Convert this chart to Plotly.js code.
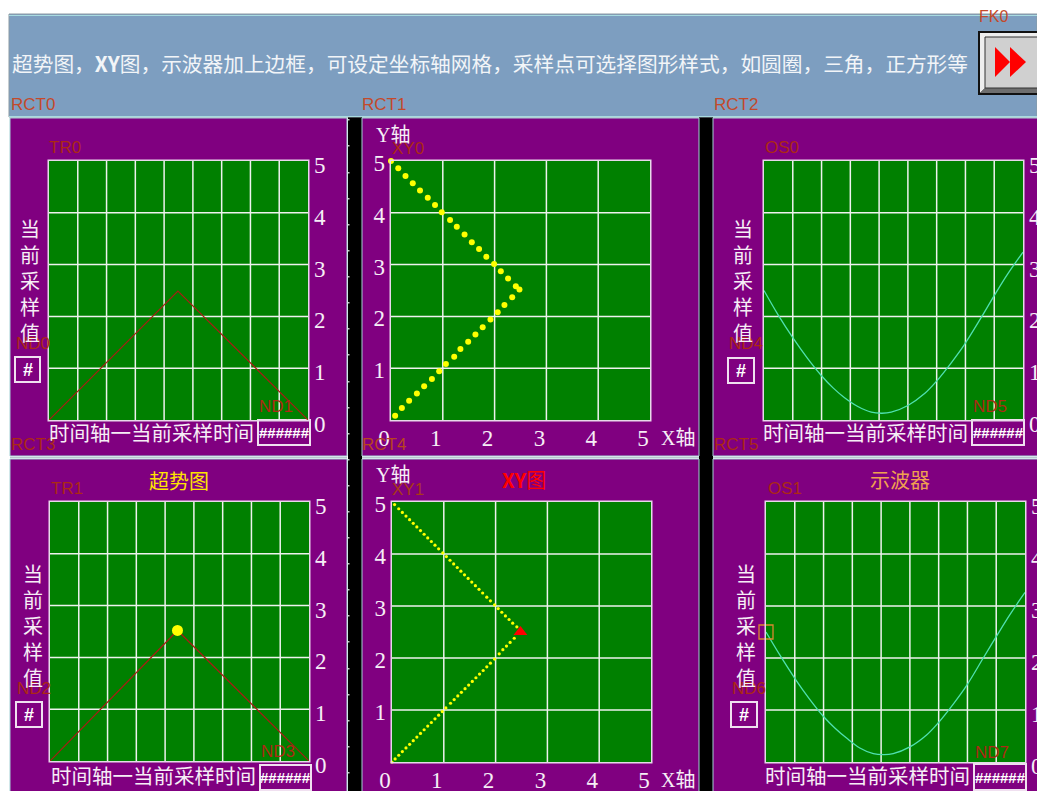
<!DOCTYPE html>
<html>
<head>
<meta charset="utf-8">
<script src="https://cdn.plot.ly/plotly-3.0.1.min.js"></script>
<style>html,body{margin:0;padding:0;background:#fff;overflow:hidden}#chart{width:1037px;height:791px}
#chart .gridlayer path,#chart .crisp{shape-rendering:auto !important}</style>
</head>
<body>
<div id="chart"></div>
<script>
// ---- data ----
var trendTime0 = [0, 4.48, 9];
var trendValue0 = [0, 2.49, 0];
var trendTime1 = [0, 4.43, 9];
var trendValue1 = [0, 2.52, 0];
var trendLatestTime = [4.43];
var trendLatestValue = [2.52];

var xy0X = [0,0.14,0.28,0.42,0.56,0.71,0.85,0.98,1.14,1.27,1.42,1.56,1.70,1.84,1.99,2.12,2.26,2.41,2.48,2.34,2.19,2.06,1.92,1.77,1.63,1.49,1.34,1.22,1.06,0.93,0.79,0.64,0.50,0.35,0.21,0.08];
var xy0Y = [5,4.86,4.71,4.57,4.43,4.29,4.15,4.01,3.86,3.73,3.58,3.43,3.30,3.15,3.01,2.87,2.73,2.58,2.52,2.37,2.22,2.08,1.94,1.79,1.65,1.51,1.37,1.22,1.08,0.94,0.79,0.65,0.51,0.37,0.23,0.08];

var xy1X = [0.05,0.13,0.20,0.27,0.34,0.41,0.48,0.55,0.62,0.69,0.76,0.83,0.90,0.98,1.05,1.12,1.19,1.26,1.33,1.40,1.47,1.54,1.61,1.68,1.75,1.83,1.90,1.98,2.05,2.12,2.19,2.26,2.33,2.41,
            2.36,2.28,2.21,2.14,2.07,1.98,1.90,1.83,1.76,1.69,1.62,1.55,1.48,1.41,1.34,1.27,1.20,1.13,1.04,0.97,0.90,0.83,0.76,0.69,0.62,0.55,0.48,0.41,0.34,0.27,0.20,0.13,0.06,0];
var xy1Y = [4.95,4.87,4.80,4.73,4.66,4.59,4.52,4.45,4.38,4.31,4.24,4.17,4.10,4.02,3.95,3.88,3.81,3.74,3.67,3.60,3.53,3.46,3.39,3.32,3.25,3.17,3.10,3.02,2.95,2.88,2.81,2.74,2.67,2.60,
            2.38,2.30,2.23,2.16,2.08,1.98,1.90,1.83,1.76,1.69,1.62,1.55,1.48,1.41,1.34,1.27,1.20,1.13,1.04,0.97,0.90,0.83,0.76,0.69,0.62,0.55,0.48,0.41,0.34,0.27,0.20,0.13,0.06,0];
var xy1LatestX = [2.48];
var xy1LatestY = [2.5];

var scopeTime0 = [0,0.49,1.0,1.5,1.99,2.4,2.8,3.26,3.73,4.1,4.42,5.0,5.58,5.98,6.5,6.97,7.55,8.0,8.47,9.0];
var scopeValue0 = [2.5,2.03,1.59,1.20,0.86,0.62,0.43,0.26,0.15,0.13,0.15,0.28,0.51,0.74,1.10,1.46,1.98,2.40,2.82,3.24];
var scopeTime1 = [0,0.49,1.0,1.5,1.99,2.4,2.8,3.26,3.73,4.1,4.42,5.0,5.58,5.98,6.5,6.97,7.55,8.0,8.47,9.0];
var scopeValue1 = [2.5,2.05,1.61,1.22,0.88,0.65,0.46,0.27,0.16,0.14,0.16,0.29,0.52,0.75,1.11,1.47,2.00,2.41,2.83,3.26];
var scopeLatestTime = [0];
var scopeLatestValue = [2.5];

var valueTicks = [0,1,2,3,4,5];
var xyTicksY = [1,2,3,4,5];
var timeGrid = [1,2,3,4,5,6,7,8];

var headerText = '超势图，<b>XY</b>图，示波器加上边框，可设定坐标轴网格，采样点可选择图形样式，如圆圈，三角，正方形等';
var verticalText = '当<br>前<br>采<br>样<br>值';
var timeText = '时间轴一当前采样时间';

// ---- page geometry helpers ----
var W = 1037, H = 791;
var px = function(v){ return v / W; };
var py = function(v){ return 1 - v / H; };
var CJK = '"Noto Sans CJK SC"';
var SERIF = '"Liberation Serif","Noto Sans CJK SC"';
var SANS = '"Liberation Sans"';
var WHITE = '#f6eef6', TAG = '#ac2a14', TAGB = '#c4492a';

var shapes = [], annotations = [];
function rect(x0,y0,x1,y1,fill,line,lw){
  shapes.push({type:'rect',xref:'paper',yref:'paper',x0:px(x0),x1:px(x1),y0:py(y0),y1:py(y1),
    fillcolor:fill,line:{color:line||fill,width:line?(lw||1):0},layer:'below'});
}
function poly(pts,fill){
  var d = pts.map(function(p,i){return (i?'L':'M')+px(p[0])+','+py(p[1]);}).join(' ')+' Z';
  shapes.push({type:'path',xref:'paper',yref:'paper',path:d,fillcolor:fill,line:{width:0},layer:'below'});
}
function text(t,x,y,size,color,anchor,family){
  annotations.push({text:t,xref:'paper',yref:'paper',x:px(x),y:py(y),showarrow:false,
    xanchor:anchor||'left',yanchor:'middle',align:'center',borderpad:0,
    font:{family:family||CJK,size:size,color:color}});
}

// backgrounds
rect(348,117,362,791,'#000000');
rect(699,117,713,791,'#000000');
rect(9,14,1037,117,'#7d9ec0','#8b9aa3',1);
shapes.push({type:'line',xref:'paper',yref:'paper',x0:px(9),x1:px(1037),y0:py(116.5),y1:py(116.5),line:{color:'#a8dbe0',width:1},layer:'below'});
shapes.push({type:'line',xref:'paper',yref:'paper',x0:px(9),x1:px(1037),y0:py(15.5),y1:py(15.5),line:{color:'#a8dbe0',width:1},layer:'below'});
[[10,347],[362,699],[713,1040]].forEach(function(c){
  rect(c[0],118,c[1],456,'#800080','#a3d0d4',1);
  rect(c[0],459,c[1],795,'#800080','#a3d0d4',1);
  shapes.push({type:'line',xref:'paper',yref:'paper',x0:px(c[0]),x1:px(c[1]),y0:py(457.5),y1:py(457.5),line:{color:'#b9c4cc',width:1},layer:'below'});
});
[119,145,172,198,224,250,276,302,328,354,381,407,433,459,485,511,537,563,589,615,641,668,694,720,746,772].forEach(function(y){
  rect(348,y,349.5,y+1.5,'#c8c8c8');
});

// subplot frames
var frames = [
  {x:[49,308], y:[161,420]},
  {x:[391,650],y:[161,420]},
  {x:[764,1023],y:[161,420]},
  {x:[50,309], y:[502,761]},
  {x:[392,651],y:[502,762]},
  {x:[766,1025],y:[502,762]}
];
var layout = {
  width:W, height:H, autosize:false, showlegend:false,
  margin:{l:0,r:0,t:0,b:0,pad:0},
  paper_bgcolor:'#ffffff', plot_bgcolor:'rgba(0,0,0,0)',
  font:{family:SERIF,color:WHITE}
};
var isXY = [false,true,false,false,true,false];
frames.forEach(function(f,i){
  var n = i===0?'':String(i+1);
  var xa = {
    domain:[px(f.x[0]),px(f.x[1])], anchor:'y'+n,
    showgrid:true, gridcolor:'#eef2ee', gridwidth:1.5, zeroline:false,
    showline:true, mirror:true, linecolor:'#e8d8ea', linewidth:1.5, ticks:'', fixedrange:true
  };
  var ya = {
    domain:[py(f.y[1]),py(f.y[0])], anchor:'x'+n, range:[0,5],
    showgrid:true, gridcolor:'#eef2ee', gridwidth:1.5, zeroline:false,
    showline:true, mirror:true, linecolor:'#e8d8ea', linewidth:1.5, ticks:'', fixedrange:true,
    tickfont:{family:SERIF,size:23,color:WHITE}
  };
  if(isXY[i]){
    xa.range=[0,5]; xa.tickmode='array'; xa.tickvals=valueTicks; xa.ticktext=valueTicks.map(String);
    xa.tickfont={family:SERIF,size:23,color:WHITE}; xa.ticklabelshift=-7; xa.ticklabelstandoff=-3;
    ya.tickmode='array'; ya.tickvals=xyTicksY; ya.ticktext=xyTicksY.map(String);
    ya.ticklabelshift=2; ya.ticklabelstandoff=0;
  } else {
    xa.range=[0,9]; xa.tickmode='array'; xa.tickvals=timeGrid; xa.showticklabels=false;
    ya.tickmode='array'; ya.tickvals=valueTicks; ya.ticktext=valueTicks.map(String); ya.side='right';
    ya.ticklabelshift=4; ya.ticklabelstandoff=0;
  }
  layout['xaxis'+n]=xa; layout['yaxis'+n]=ya;
  shapes.push({type:'rect',xref:'x'+n+' domain',yref:'y'+n+' domain',x0:0,x1:1,y0:0,y1:1,fillcolor:'#008000',line:{width:0},layer:'below'});
});

// traces
var RED = '#a81c14', TEAL = '#4fe0b0', YEL = '#ffff00';
var data = [
  {x:trendTime0,y:trendValue0,xaxis:'x',yaxis:'y',mode:'lines',line:{color:RED,width:1.2},hoverinfo:'skip'},
  {x:xy0X,y:xy0Y,xaxis:'x2',yaxis:'y2',mode:'markers',marker:{color:YEL,size:6,symbol:'circle'},cliponaxis:false,hoverinfo:'skip'},
  {x:scopeTime0,y:scopeValue0,xaxis:'x3',yaxis:'y3',mode:'lines',line:{color:TEAL,width:1.3,shape:'spline'},hoverinfo:'skip'},
  {x:trendTime1,y:trendValue1,xaxis:'x4',yaxis:'y4',mode:'lines',line:{color:RED,width:1.2},hoverinfo:'skip'},
  {x:trendLatestTime,y:trendLatestValue,xaxis:'x4',yaxis:'y4',mode:'markers',marker:{color:YEL,size:11,symbol:'circle'},hoverinfo:'skip'},
  {x:xy1X,y:xy1Y,xaxis:'x5',yaxis:'y5',mode:'markers',marker:{color:YEL,size:3.2,symbol:'circle'},cliponaxis:false,hoverinfo:'skip'},
  {x:xy1LatestX,y:xy1LatestY,xaxis:'x5',yaxis:'y5',mode:'markers',marker:{color:'#ff0000',size:12,symbol:'triangle-up'},hoverinfo:'skip'},
  {x:scopeTime1,y:scopeValue1,xaxis:'x6',yaxis:'y6',mode:'lines',line:{color:TEAL,width:1.3,shape:'spline'},hoverinfo:'skip'},
  {x:scopeLatestTime,y:scopeLatestValue,xaxis:'x6',yaxis:'y6',mode:'markers',cliponaxis:false,marker:{color:'rgba(0,0,0,0)',size:14,symbol:'square',line:{color:'#d9892f',width:1.3}},hoverinfo:'skip'}
];

// header + button
text(headerText,11,63,20.7,'#f2f5f8','left');
rect(978,31,1040,95,'#111111');
poly([[980,33],[1040,33],[1040,37],[985,37],[985,88],[980,93]],'#eeeeee');
poly([[980,93],[985,88],[1040,88],[1040,93]],'#6e6e6e');
rect(985,37,1040,88,'#d0d0d0','#333333',1);
poly([[995,47],[1010,62],[995,77]],'#ff0000');
poly([[1010,47],[1026,62],[1010,77]],'#ff0000');

// tags
text('FK0',978,17,16,TAGB,'left',SANS);
[['RCT0',10,104,TAGB],['RCT1',361,104,TAGB],['RCT2',713,104,TAGB],
 ['RCT3',10,445,TAG],['RCT4',361,445,'#b8451e'],['RCT5',713,445,TAG],
 ['TR0',48,147,TAG],['TR1',50,488,TAG],['OS0',764,147,TAG],['OS1',767,488,TAG],
 ['XY0',391,148,TAG],['XY1',391,489,'#a83a18'],
 ['ND0',15,343,TAG],['ND1',258,407,TAG],['ND2',16,688,TAG],['ND3',260,751,TAG],
 ['ND4',728,343,TAG],['ND5',972,407,TAG],['ND6',731,688,TAG],['ND7',974,752,TAG]
].forEach(function(t){ text(t[0],t[1],t[2],17,t[3],'left',SANS); });

// vertical axis titles, time axis titles
[[30,280],[33,625],[743,280],[746,625]].forEach(function(p){ text(verticalText,p[0],p[1],20,WHITE,'center'); });
[[48,432],[50,775],[762,432],[764,775]].forEach(function(p){ text(timeText,p[0],p[1],20.5,WHITE,'left'); });

// number boxes
[[15,357,40,382],[16,702,42,727],[728,358,754,383],[731,702,757,727]].forEach(function(b){
  rect(b[0],b[1],b[2],b[3],'#800080','#f0e0f0',2);
  text('<b>#</b>',(b[0]+b[2])/2,(b[1]+b[3])/2,18,'#ffffff','center',SANS);
});
[[258,420,310,445],[260,765,311,790],[972,420,1024,445],[974,764,1026,790]].forEach(function(b){
  rect(b[0],b[1],b[2],b[3],'#800080','#f0e0f0',2);
  text('<b>######</b>',(b[0]+b[2])/2,(b[1]+b[3])/2,15,'#ffffff','center',SANS);
});

// XY axis names, titles
[['Y轴',375,135],['Y轴',375,475],['X轴',660,438],['X轴',660,780]].forEach(function(t){ text(t[0],t[1],t[2],20,WHITE,'left',SERIF); });
text('超势图',179,480,20,'#ffe400','center');
text('<b>XY</b>图',524,479,20,'#ff0000','center');
text('示波器',900,479,20,'#f0a050','center');

layout.shapes = shapes;
layout.annotations = annotations;
Plotly.newPlot('chart',data,layout,{staticPlot:true,displayModeBar:false});
</script>
</body>
</html>
